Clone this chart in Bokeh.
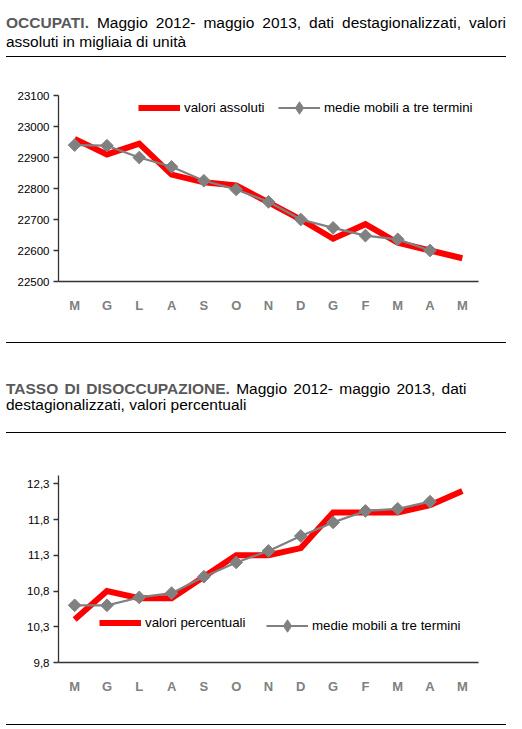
from math import pi

from bokeh.plotting import figure
from bokeh.layouts import column
from bokeh.models import (Div, Range1d, FixedTicker, Legend, LegendItem,
                          CustomJSTickFormatter)
from bokeh.embed import file_html
from bokeh.resources import INLINE

months = ["M", "G", "L", "A", "S", "O", "N", "D", "G", "F", "M", "A", "M"]

# occupati, migliaia
occupati = [22960, 22910, 22945, 22845, 22820, 22810, 22755,
            22700, 22638, 22685, 22625, 22600, 22575]
occupati_mm = [22940, 22938, 22900, 22870, 22825, 22797, 22757,
               22700, 22673, 22648, 22636, 22600]
occ_ticks = [22500, 22600, 22700, 22800, 22900, 23000, 23100]

# tasso di disoccupazione, %
disocc = [10.4, 10.8, 10.7, 10.7, 11.0, 11.3, 11.3,
          11.4, 11.9, 11.9, 11.9, 12.0, 12.2]
disocc_mm = [10.6, 10.6, 10.71, 10.77, 11.0, 11.2, 11.36,
             11.57, 11.76, 11.92, 11.95, 12.05]
dis_ticks = [9.8, 10.3, 10.8, 11.3, 11.8, 12.3]

FONT = "Liberation Sans"
RED = "#ff0000"
GREY = "#808080"
AXIS = "#333333"
W = 500


def header(bold, rest, line2, height, pad_top, line_h, top_rule, justify,
           word_sp="0px"):
    first = ('<div style="text-align:justify;text-align-last:justify;'
             'white-space:nowrap;">' if justify else
             '<div style="white-space:nowrap;word-spacing:%s;">' % word_sp)
    html = (
        '<div style="box-sizing:border-box;width:%spx;height:%spx;'
        'font-family:\'%s\',Arial,sans-serif;font-size:15.5px;'
        'line-height:%spx;color:#000;padding-top:%spx;%s'
        'border-bottom:1.3px solid #000;">'
        '%s<b style="color:#595959;">%s</b>%s</div>'
        '<div>%s</div></div>'
    ) % (W, height, FONT, line_h, pad_top,
         'border-top:1.3px solid #000;' if top_rule else '',
         first, bold, rest, line2)
    return Div(text=html, width=W, height=height, margin=(0, 0, 0, 0))


def chart(vals, mm, ticks, y0, y1, height, top, bottom, fmt, legends):
    p = figure(width=W, height=height, output_backend="svg",
               toolbar_location=None, x_range=Range1d(-0.5, 12.5),
               y_range=Range1d(y0, y1), min_border_left=52,
               min_border_right=28, min_border_top=top,
               min_border_bottom=bottom, margin=(0, 0, 0, 0))
    p.outline_line_color = None
    p.xgrid.visible = p.ygrid.visible = False
    p.background_fill_color = None
    p.border_fill_color = None

    xs = list(range(len(months)))
    red = p.line(xs, vals, line_color=RED, line_width=6, line_join="miter")
    gl = p.line(xs[:len(mm)], mm, line_color=GREY, line_width=2.2)
    # plain diamonds, hidden under the rotated squares: used by the legend,
    # which does not rotate glyphs
    gm = p.scatter(xs[:len(mm)], mm, marker="diamond", size=8,
                   fill_color=GREY, line_color=GREY)
    p.scatter(xs[:len(mm)], mm, marker="square", angle=pi / 4,
              size=9, fill_color=GREY, line_color=GREY)

    p.xaxis.ticker = FixedTicker(ticks=xs)
    p.xaxis.major_label_overrides = {i: m for i, m in enumerate(months)}
    p.xaxis.major_tick_out = 0
    p.xaxis.major_tick_in = 0
    p.xaxis.minor_tick_line_color = None
    p.xaxis.major_label_standoff = 16
    p.xaxis.major_label_text_font = FONT
    p.xaxis.major_label_text_font_size = "13px"
    p.xaxis.major_label_text_font_style = "bold"
    p.xaxis.major_label_text_color = GREY
    p.xaxis.axis_line_color = AXIS
    p.xaxis.axis_line_width = 1.3

    p.yaxis.ticker = FixedTicker(ticks=ticks)
    if fmt:
        p.yaxis.formatter = CustomJSTickFormatter(
            code="return tick.toFixed(1).replace('.', ',');")
    p.yaxis.major_tick_out = 5
    p.yaxis.major_tick_in = 0
    p.yaxis.minor_tick_line_color = None
    p.yaxis.major_tick_line_color = AXIS
    p.yaxis.major_tick_line_width = 1.3
    p.yaxis.major_label_standoff = 4
    p.yaxis.major_label_text_font = FONT
    p.yaxis.major_label_text_font_size = "11.5px"
    p.yaxis.major_label_text_color = "#000000"
    p.yaxis.axis_line_color = AXIS
    p.yaxis.axis_line_width = 1.3

    (lab_r, loc_r), (lab_g, loc_g) = legends
    for label, loc, rends in ((lab_r, loc_r, [red]), (lab_g, loc_g, [gl, gm])):
        leg = Legend(items=[LegendItem(label=label, renderers=rends)],
                     location=loc, orientation="horizontal",
                     glyph_width=42, glyph_height=31, label_height=31,
                     label_standoff=4, padding=0, margin=0,
                     border_line_color=None, background_fill_alpha=0,
                     label_text_font=FONT, label_text_font_size="13.3px",
                     label_text_color="#000000")
        p.add_layout(leg)
    return p


head1 = header("OCCUPATI.", " Maggio 2012- maggio 2013, dati "
               "destagionalizzati, valori", "assoluti in migliaia di unità",
               height=49, pad_top=6.3, line_h=18.7, top_rule=False,
               justify=True)
p1 = chart(occupati, occupati_mm, occ_ticks, 22500, 23100, 285, 38, 61,
           False, (("valori assoluti", (80, 158.5)),
                   ("medie mobili a tre termini", (220, 158.5))))

head2 = header("TASSO DI DISOCCUPAZIONE.",
               " Maggio 2012- maggio 2013, dati",
               "destagionalizzati, valori percentuali",
               height=91, pad_top=38.3, line_h=16, top_rule=True,
               justify=False, word_sp="2px")
p2 = chart(disocc, disocc_mm, dis_ticks, 9.8, 12.416, 285, 42, 56,
           True, (("valori percentuali", (41, 23.8)),
                  ("medie mobili a tre termini", (208, 21.5))))

foot = Div(text='<div style="box-sizing:border-box;width:%spx;height:6px;'
                'border-top:1.3px solid #000;"></div>' % W,
           width=W, height=6, margin=(0, 0, 0, 0))

layout = column(head1, p1, head2, p2, foot, spacing=0, margin=(8, 0, 0, 6))

open("out.html", "w").write(file_html(layout, INLINE))
